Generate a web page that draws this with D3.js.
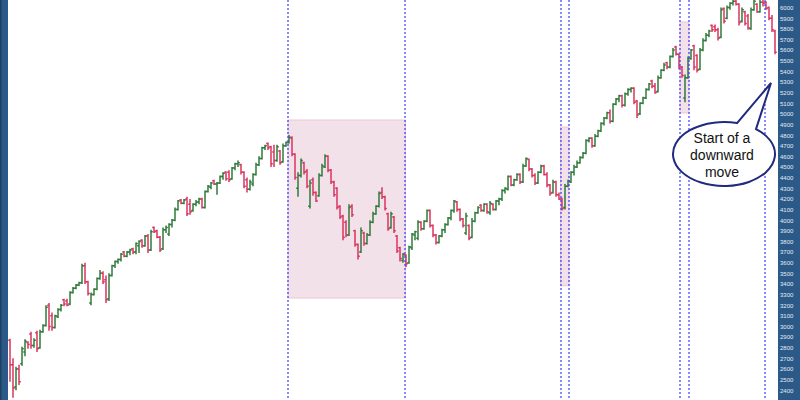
<!DOCTYPE html>
<html><head><meta charset="utf-8">
<script src="https://cdn.jsdelivr.net/npm/d3@7"></script>
<style>html,body{margin:0;padding:0;background:#fff;overflow:hidden}</style>
</head><body><svg id="c" width="800" height="400"></svg>
<script>
const opens=[2870,2640,2430,2600,2650,2760,2850,2930,2820,2940,2800,2950,3010,3200,3100,2990,3090,3160,3250,3240,3210,3320,3360,3390,3410,3570,3420,3220,3300,3350,3450,3500,3440,3260,3480,3570,3610,3630,3700,3660,
3700,3730,3700,3760,3810,3760,3850,3720,3930,3900,3840,3730,3910,3870,3960,4000,4100,4190,4160,4200,4150,4090,4150,4170,4200,4120,4270,4310,4370,4340,4350,4410,4450,4450,4390,4490,4530,4520,4450,4380,
4290,4340,4430,4520,4580,4680,4720,4690,4640,4560,4650,4550,4700,4730,4770,4620,4300,4420,4540,4460,4130,4380,4260,4230,4420,4500,4600,4470,4360,4300,4130,4040,3980,3860,4130,3900,3770,3700,3880,3780,
3860,3980,4060,4130,4260,4220,4060,3930,4030,3850,3740,3620,3670,3600,3740,3860,3830,3980,3920,3990,4090,3950,3860,3790,3850,3910,3960,4020,4090,4170,4100,4010,3880,3950,3840,3990,4070,4140,4090,4150,
4070,4150,4100,4180,4200,4280,4290,4410,4330,4380,4430,4360,4510,4570,4480,4420,4350,4450,4510,4430,4330,4260,4360,4240,4200,4120,4320,4360,4450,4500,4540,4590,4630,4750,4770,4700,4790,4840,4910,4960,
5010,4930,5090,5140,5170,5080,5190,5230,5240,5120,5000,5100,5150,5230,5310,5260,5210,5340,5410,5480,5440,5540,5630,5560,5440,5150,5340,5520,5640,5550,5420,5600,5690,5740,5830,5820,5790,5720,5990,5900,
6000,6040,6060,6030,5870,5960,5920,5800,5980,6030,5960,6050,6050,6000,5900,5780];
const highs=[2885,2700,2620,2640,2810,2880,2860,2950,2890,2960,2970,3020,3200,3220,3130,3110,3170,3210,3260,3260,3330,3370,3400,3420,3590,3600,3430,3320,3360,3460,3530,3520,3480,3500,3580,3620,3640,3690,3710,3710,
3730,3740,3790,3810,3820,3860,3870,3910,3940,3910,3850,3930,3950,3970,4010,4120,4190,4200,4200,4220,4200,4160,4190,4210,4210,4280,4330,4360,4380,4360,4420,4450,4460,4470,4500,4540,4560,4530,4460,4400,
4380,4440,4540,4600,4690,4710,4730,4700,4710,4710,4660,4720,4740,4800,4790,4630,4450,4580,4550,4480,4380,4400,4270,4440,4530,4620,4610,4480,4370,4310,4140,4050,4000,4150,4150,3910,3780,3930,3890,3880,
4000,4080,4140,4270,4310,4230,4070,4080,4040,3860,3750,3690,3680,3760,3880,3900,4000,3990,4000,4100,4100,3960,3870,3860,3920,3970,4030,4100,4190,4180,4110,4020,4070,3960,4020,4080,4130,4150,4160,4160,
4180,4160,4190,4210,4290,4310,4420,4420,4390,4440,4440,4530,4590,4580,4490,4440,4460,4520,4520,4450,4340,4380,4370,4260,4210,4340,4380,4460,4520,4560,4600,4640,4760,4780,4780,4810,4850,4920,4970,5020,
5040,5100,5150,5180,5180,5200,5240,5250,5250,5130,5110,5160,5240,5290,5320,5290,5360,5420,5480,5490,5550,5620,5640,5570,5450,5370,5540,5610,5650,5560,5620,5710,5760,5790,5840,5840,5810,6000,6000,6020,
6050,6070,6070,6040,6000,5970,5940,6000,6070,6040,6080,6070,6060,6010,5930,5790];
const lows=[2480,2330,2400,2450,2630,2720,2790,2790,2800,2760,2790,2940,3000,2960,2960,2980,3080,3140,3190,3190,3200,3310,3350,3380,3400,3400,3290,3200,3290,3340,3440,3400,3220,3240,3470,3550,3590,3610,3650,3650,
3670,3680,3680,3690,3740,3750,3690,3710,3880,3830,3700,3720,3880,3850,3930,3990,4090,4150,4150,4040,4050,4080,4130,4150,4110,4110,4260,4290,4330,4240,4340,4380,4370,4360,4380,4470,4500,4430,4300,4260,
4280,4320,4420,4510,4570,4660,4660,4500,4500,4550,4520,4540,4690,4720,4600,4380,4220,4400,4430,4300,4110,4230,4170,4220,4410,4490,4450,4340,4220,4100,4010,3810,3840,3850,4030,3750,3630,3690,3760,3770,
3850,3970,4050,4120,4200,4090,3900,3920,3880,3690,3610,3600,3560,3590,3720,3810,3810,3900,3910,3980,3930,3840,3770,3780,3840,3880,3950,4000,4070,4080,3990,3930,3860,3810,3830,3980,4060,4080,4080,4060,
4050,4090,4090,4140,4180,4250,4280,4320,4320,4370,4340,4350,4500,4460,4400,4330,4340,4440,4420,4310,4230,4250,4220,4190,4090,4100,4310,4350,4420,4490,4530,4580,4620,4730,4680,4690,4780,4830,4890,4950,
4910,4920,5080,5110,5060,5070,5170,5200,5090,4960,4990,5090,5140,5220,5240,5190,5200,5330,5400,5420,5430,5530,5550,5420,5340,5110,5330,5510,5410,5390,5410,5590,5680,5720,5770,5770,5690,5710,5850,5890,
5980,6020,6020,5830,5860,5830,5790,5790,5970,5950,5950,6010,5980,5880,5770,5560];
const closes=[2640,2420,2600,2480,2790,2860,2830,2820,2870,2790,2950,3010,3180,3000,2990,3100,3160,3200,3210,3200,3320,3360,3390,3410,3570,3420,3310,3300,3350,3450,3500,3420,3250,3480,3570,3610,3630,3680,3660,3700,
3720,3700,3780,3800,3760,3850,3720,3890,3890,3840,3720,3910,3930,3960,4000,4100,4180,4160,4190,4060,4080,4150,4170,4200,4120,4270,4320,4350,4340,4350,4410,4440,4390,4380,4490,4530,4540,4450,4320,4290,
4360,4430,4520,4580,4680,4700,4680,4530,4560,4690,4540,4700,4730,4780,4620,4400,4420,4560,4450,4320,4350,4260,4180,4420,4510,4600,4470,4360,4240,4120,4030,3840,3860,4120,4050,3770,3660,3900,3780,3860,
3980,4060,4130,4250,4220,4110,3920,4060,3900,3710,3640,3680,3590,3750,3870,3890,3980,3920,3990,4090,3950,3860,3790,3850,3910,3960,4020,4090,4180,4100,4010,3950,4040,3830,3990,4070,4120,4090,4150,4080,
4160,4100,4180,4200,4280,4300,4410,4330,4380,4430,4360,4510,4580,4480,4420,4350,4450,4510,4430,4330,4250,4360,4240,4200,4110,4320,4370,4450,4500,4540,4590,4630,4750,4770,4700,4790,4840,4910,4960,5010,
4930,5090,5140,5170,5080,5190,5230,5240,5110,4990,5100,5150,5230,5280,5260,5200,5340,5410,5460,5440,5540,5600,5560,5440,5360,5340,5520,5600,5440,5410,5600,5690,5740,5780,5790,5790,5710,5980,5870,6000,
6040,6060,6030,5860,5980,5850,5810,5980,6060,5960,6050,6040,5990,5900,5790,5580];
const tickLabels=[2400,2500,2600,2700,2800,2900,3000,3100,3200,3300,3400,3500,3600,3700,3800,3900,4000,4100,4200,4300,4400,4500,4600,4700,4800,4900,5000,5100,5200,5300,5400,5500,5600,5700,5800,5900,6000];
const eventIdx=[92.67,131.83,183.5,186.33,223.33,226.33,251.67];
const zoneFrom=[92.67,183.5,223.33];
const zoneTo=[131.83,186.33,226.33];
const zoneLow=[3267,3383,5008];
const zoneHigh=[4942,4876,5864];
const calloutLines=["Start of a","downward","move"];

const W=800,H=400;
const svg=d3.select("#c");
const N=closes.length;
const x=d3.scaleLinear().domain([0,N-1]).range([10,775]);
const y=d3.scaleLinear().domain([2308,6071]).range([H,0]);

svg.append("rect").attr("width",W).attr("height",H).attr("fill","#fff");

// zones
svg.append("g").selectAll("rect").data(zoneFrom).join("rect")
  .attr("x",(d)=>x(d)).attr("width",(d,i)=>x(zoneTo[i])-x(d))
  .attr("y",(d,i)=>y(zoneHigh[i])).attr("height",(d,i)=>y(zoneLow[i])-y(zoneHigh[i]))
  .attr("fill","#f3e1ea").attr("stroke","#e8c8d8").attr("stroke-width",1);

// bars
const green="#2f7a3a", red="#d9345f";
const bars=svg.append("g").selectAll("g").data(d3.range(N)).join("g")
  .attr("stroke",i=>closes[i]>=opens[i]?green:red).attr("stroke-width",1.5).attr("fill","none");
bars.append("line").attr("x1",i=>x(i)).attr("x2",i=>x(i)).attr("y1",i=>y(highs[i])).attr("y2",i=>y(lows[i]));
bars.append("line").attr("x1",i=>x(i)-1.8).attr("x2",i=>x(i)).attr("y1",i=>y(opens[i])).attr("y2",i=>y(opens[i]));
bars.append("line").attr("x1",i=>x(i)).attr("x2",i=>x(i)+1.8).attr("y1",i=>y(closes[i])).attr("y2",i=>y(closes[i]));

// event lines
svg.append("g").selectAll("line").data(eventIdx).join("line")
  .attr("x1",d=>Math.round(x(d))).attr("x2",d=>Math.round(x(d))).attr("y1",0).attr("y2",H)
  .attr("stroke","#3a3aff").attr("stroke-width",1.2).attr("stroke-dasharray","2,2");

// side bands
svg.append("rect").attr("x",0).attr("y",0).attr("width",8).attr("height",H).attr("fill","#2c5a88");
svg.append("rect").attr("x",0).attr("y",0).attr("width",1.5).attr("height",H).attr("fill","#1e3f63");
svg.append("rect").attr("x",778).attr("y",0).attr("width",22).attr("height",H).attr("fill","#2c5a88");

const ax=svg.append("g").attr("transform","translate(779,0)")
  .call(d3.axisRight(y).tickValues(tickLabels).tickSize(0).tickPadding(1).tickFormat(d3.format("d")));
ax.select(".domain").remove();
ax.selectAll("text").attr("fill","#e4ebf4").attr("font-size","6px").attr("font-family","Liberation Sans, Arial, sans-serif");

// callout
const cx=724, cy=154, rx=51, ry=32;
const a1=Math.acos((737-cx)/rx), a2=Math.acos((756-cx)/rx);
const A=[cx+rx*Math.cos(a1), cy-ry*Math.sin(a1)], B=[cx+rx*Math.cos(a2), cy-ry*Math.sin(a2)];
const tip=[771,83];
svg.append("path")
  .attr("d",`M${B[0]},${B[1]} L${tip[0]},${tip[1]} L${A[0]},${A[1]} A${rx},${ry} 0 1 0 ${B[0]},${B[1]} Z`)
  .attr("fill","#fff").attr("stroke","#202a7e").attr("stroke-width",2).attr("stroke-linejoin","miter");
svg.append("g").selectAll("text").data(calloutLines).join("text")
  .attr("x",722).attr("y",(d,i)=>143+i*17).attr("text-anchor","middle")
  .attr("font-family","Liberation Sans, Arial, sans-serif").attr("font-size","14px").attr("fill","#111")
  .text(d=>d);
</script></body></html>
